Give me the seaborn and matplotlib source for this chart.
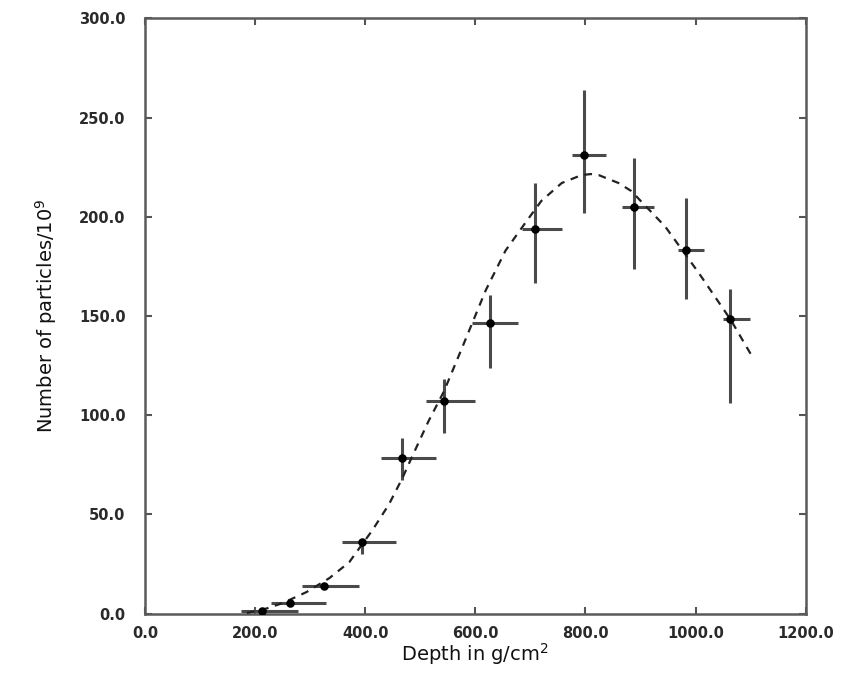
import numpy as np
import pandas as pd
import matplotlib
matplotlib.use("Agg")
import matplotlib.pyplot as plt
import seaborn as sns

# Measured points
depth = [212, 264, 326, 395, 467, 543, 626, 709, 798, 889, 983, 1063]
particles = [1.5, 5.5, 14, 36, 78.5, 107, 146.5, 194, 231, 205, 183, 148.5]
depth_lo = [175, 228, 286, 358, 429, 510, 594, 684, 775, 867, 968, 1050]
depth_hi = [278, 328, 389, 456, 528, 599, 677, 757, 838, 925, 1015, 1099]
particles_lo = [0.5, 4, 12.5, 30, 67.5, 91, 124, 166.5, 202, 173.5, 158.5, 106]
particles_hi = [2.5, 7, 15.5, 37, 88.5, 118, 160.5, 217, 264, 229.5, 209.5, 163.5]

# Fitted curve
fit_depth = [185, 220, 250, 293, 335, 371, 392, 413, 443, 467, 485, 515, 543, 576,
             619, 655, 691, 720, 757, 793, 810, 824, 860, 883, 945, 1005, 1064, 1104]
fit_particles = [0.3, 2.5, 5.3, 10.8, 17.9, 25.9, 34, 42, 55, 68, 79, 97, 112, 134,
                 163, 183, 197, 208, 217, 221, 221.5, 221, 217, 213, 195, 172, 148, 129]

x_ticks = [0, 200, 400, 600, 800, 1000, 1200]
y_ticks = [0, 50, 100, 150, 200, 250, 300]

sns.set_theme(style="ticks")
plt.rcParams['font.family'] = ['DejaVu Sans']

fig = plt.figure(figsize=(8.58, 6.78), dpi=100)
ax = fig.add_axes([0.169, 0.095, 0.770, 0.878])

pts = pd.DataFrame({"depth": depth, "particles": particles})
fit = pd.DataFrame({"depth": fit_depth, "particles": fit_particles})

x = np.array(depth, dtype=float)
y = np.array(particles, dtype=float)
xerr = [x - np.array(depth_lo), np.array(depth_hi) - x]
yerr = [y - np.array(particles_lo), np.array(particles_hi) - y]
ax.errorbar(x, y, xerr=xerr, yerr=yerr, fmt='none', ecolor='#4a4a4a',
            elinewidth=2.2, capsize=0, zorder=2)

sns.lineplot(data=fit, x="depth", y="particles", ax=ax, color='#222222',
             linewidth=1.6, dashes=False, sort=False, zorder=3)
ax.lines[-1].set_dashes((3.5, 3))

sns.scatterplot(data=pts, x="depth", y="particles", ax=ax, color='black',
                s=38, edgecolor='black', linewidth=0, zorder=4)

ax.set_xlim(0, 1200)
ax.set_ylim(0, 300)
ax.set_xticks(x_ticks)
ax.set_yticks(y_ticks)
ax.set_xticklabels([f"{v:.1f}" for v in x_ticks], fontsize=10.5, fontweight='bold', color='#2a2a2a')
ax.set_yticklabels([f"{v:.1f}" for v in y_ticks], fontsize=10.5, fontweight='bold', color='#2a2a2a')
ax.tick_params(axis='both', direction='in', length=5, width=1.5, color='#555555',
               top=True, right=True, pad=9)
ax.tick_params(axis='y', pad=14)

for sp in ax.spines.values():
    sp.set_visible(True)
    sp.set_color('#5a5a5a')
    sp.set_linewidth(1.8)

ax.set_xlabel("Depth in g/cm$^2$", fontsize=14, color='#111111', labelpad=0)
ax.set_ylabel("Number of particles/10$^9$", fontsize=14, color='#111111', labelpad=14)

fig.savefig("out.png", dpi=100, facecolor='white')
